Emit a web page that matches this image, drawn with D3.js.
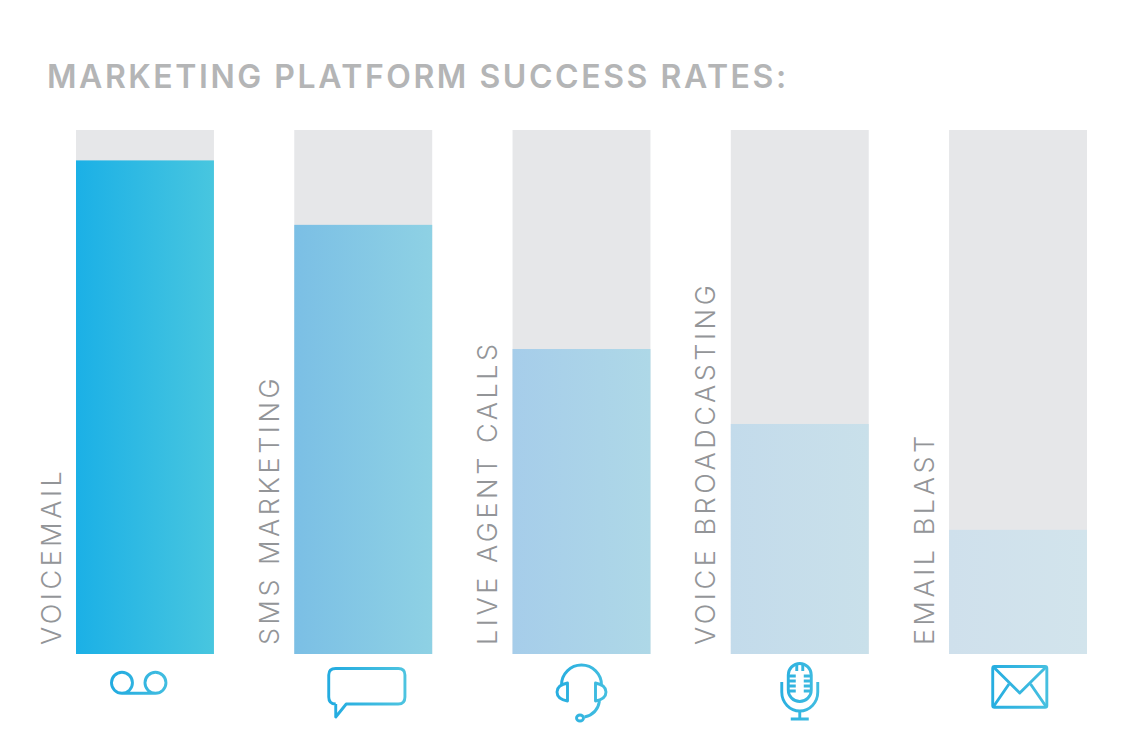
<!DOCTYPE html>
<html><head><meta charset="utf-8">
<script src="https://cdn.jsdelivr.net/npm/d3@7"></script>
<style>html,body{margin:0;padding:0;background:#fff}svg{display:block}</style>
</head><body><div id="c"></div>
<script>
const title = "MARKETING PLATFORM SUCCESS RATES:";
const categories = ["VOICEMAIL","SMS MARKETING","LIVE AGENT CALLS","VOICE BROADCASTING","EMAIL BLAST"];
const values = [94.2,81.9,58.2,43.9,23.7];
const colorsLeft = ["#1bb0e6","#7bbfe5","#a6cdea","#c3dbeb","#cfe0ec"];
const colorsRight = ["#48c6df","#8ed1e4","#aed8e7","#c9e0ea","#d2e4ec"];

const W=1128,H=733;
const svg=d3.select("#c").append("svg").attr("width",W).attr("height",H).attr("viewBox",`0 0 ${W} ${H}`);
const defs=svg.append("defs");
const x=d3.scaleBand().domain(categories).range([76,1087]).paddingInner(0.368);
const y=d3.scaleLinear().domain([0,100]).range([654,130]);

categories.forEach((c,i)=>{
  const g=defs.append("linearGradient").attr("id","bar"+i);
  g.append("stop").attr("offset",0).attr("stop-color",colorsLeft[i]);
  g.append("stop").attr("offset",1).attr("stop-color",colorsRight[i]);
});
const ig=defs.append("linearGradient").attr("id","icon").attr("gradientUnits","userSpaceOnUse")
  .attr("x1",-30).attr("x2",40).attr("y1",0).attr("y2",0);
ig.append("stop").attr("offset",0).attr("stop-color","#24ace0");
ig.append("stop").attr("offset",1).attr("stop-color","#4cc3e0");

svg.append("text").attr("x",47).attr("y",87.5).text(title)
  .attr("font-family","Inter, sans-serif").attr("font-size",32).attr("font-weight",600)
  .attr("fill","#b4b5b6").attr("letter-spacing",2.55);

svg.selectAll("rect.track").data(categories).join("rect").attr("class","track")
  .attr("x",d=>x(d)).attr("y",y(100)).attr("width",x.bandwidth()).attr("height",y(0)-y(100)).attr("fill","#e6e7e9");
svg.selectAll("rect.bar").data(values).join("rect").attr("class","bar")
  .attr("x",(d,i)=>x(categories[i])).attr("y",d=>y(d)).attr("width",x.bandwidth())
  .attr("height",d=>y(0)-y(d)).attr("fill",(d,i)=>`url(#bar${i})`);

svg.selectAll("text.lab").data(categories).join("text").attr("class","lab")
  .attr("transform",d=>`translate(${x(d)-15.5},645) rotate(-90)`)
  .text(d=>d).attr("font-family","Inter, sans-serif").attr("font-size",27).attr("font-weight",300)
  .attr("fill","#939598").attr("letter-spacing",3.55);

// Icon outlines, in coordinates local to each bar's bottom centre
const iconPaths=[
 ["M-23,39.3A10.5,10.5 0 1 1 -23,18.3A10.5,10.5 0 1 1 -23,39.3L10.5,39.3A10.5,10.5 0 1 0 10.5,18.3A10.5,10.5 0 1 0 10.5,39.3"],
 ["M-27.5,50L-27.5,63L-17,50L35,50Q41.7,50 41.7,43L41.7,21Q41.7,14.5 35,14.5L-27.5,14.5Q-34.5,14.5 -34.5,21L-34.5,43Q-34.5,50 -27.5,50"],
 ["M-20,31A20,20 0 0 1 20,31","M-14,29L-14,47Q-24.5,45 -24.5,38Q-24.5,31 -14,29Z","M14,29L14,47Q24.5,45 24.5,38Q24.5,31 14,29Z",
  "M18,47Q16,60 3,63","M2,64A3.5,3 0 1 1 -5,64A3.5,3 0 1 1 2,64"],
 ["M-11.5,21A11.5,11.5 0 0 1 11.5,21L11.5,36A11.5,11.5 0 0 1 -11.5,36Z","M-18,28L-18,38A18,19 0 0 0 18,38L18,28","M0,57L0,65M-9,65L9,65",
  "M-11.5,22L-4,22M-11.5,27L-4,27M-11.5,32L-4,32M-11.5,37L-4,37M11.5,22L4,22M11.5,27L4,27M11.5,32L4,32M11.5,37L4,37","M-3,10L-3,17M3,10L3,17"],
 ["M-23.5,12.5L27,12.5Q28.8,12.5 28.8,14.5L28.8,51.5Q28.8,53.3 27,53.3L-23.5,53.3Q-25.3,53.3 -25.3,51.5L-25.3,14.5Q-25.3,12.5 -23.5,12.5Z",
  "M-24,13.5L1.7,39L27.5,13.5","M-24.5,52.5L-9,30M28,52.5L12.5,30"]
];
svg.selectAll("g.icon").data(categories).join("g").attr("class","icon")
  .attr("transform",d=>`translate(${x(d)+x.bandwidth()/2},654)`)
  .each(function(d,i){
    d3.select(this).selectAll("path").data(iconPaths[i]).join("path").attr("d",p=>p)
      .attr("fill","none").attr("stroke","url(#icon)").attr("stroke-width",2.9).attr("stroke-linejoin","round");
  });
</script></body></html>
